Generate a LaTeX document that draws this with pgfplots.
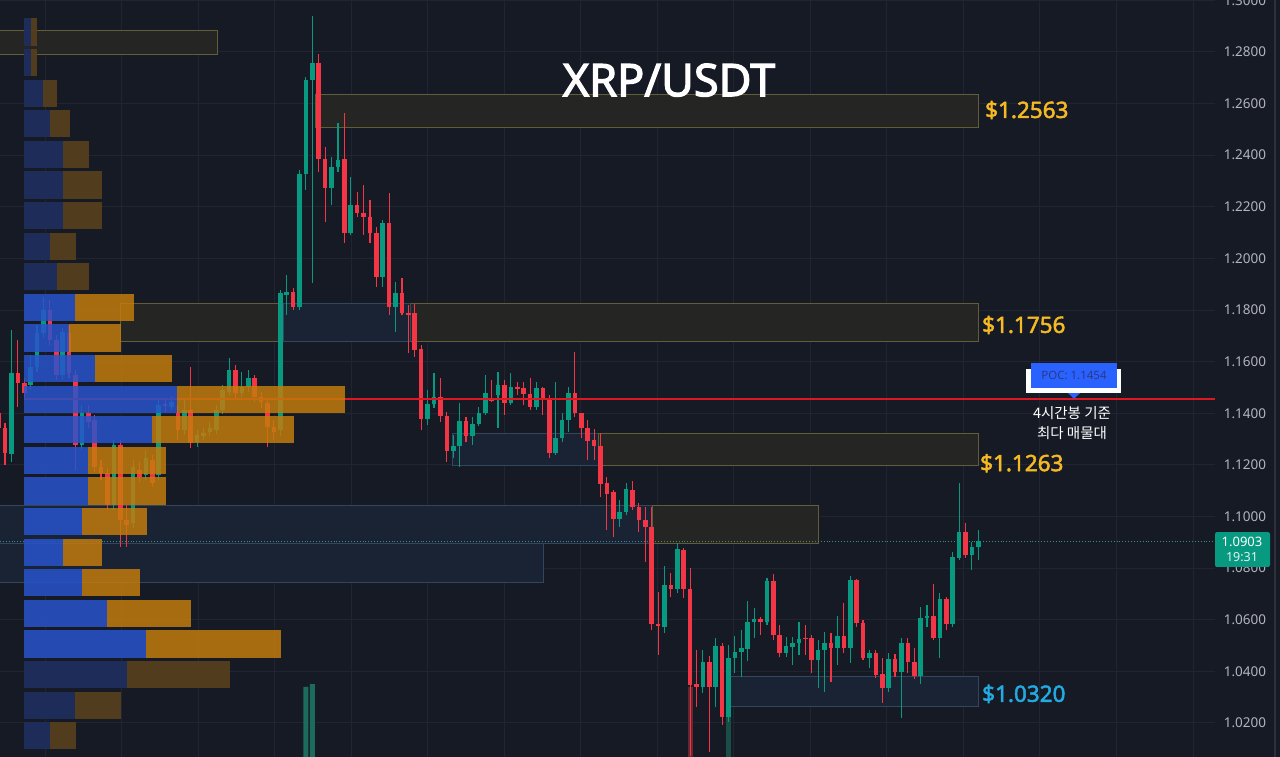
\documentclass[border=0pt]{standalone}
\usepackage{fontspec}
\setmainfont{Noto Sans}
\newfontfamily\bfnt{Noto Sans}[FakeBold=2.6]
\newfontfamily\bfntb{Noto Sans}[FakeBold=2.2]
\newfontfamily\kr{Noto Sans CJK KR}
\usepackage{pgfplots}
\usepackage{pgfplotstable}
\pgfplotsset{compat=1.18}

\definecolor{bg}{RGB}{22,26,37}
\definecolor{gridc}{RGB}{33,37,49}
\definecolor{upc}{RGB}{8,153,129}
\definecolor{dnc}{RGB}{242,54,69}
\definecolor{pocred}{RGB}{222,24,34}
\definecolor{olivef}{RGB}{37,38,36}
\definecolor{oliveb}{RGB}{96,93,56}
\definecolor{bluef}{RGB}{26,35,51}
\definecolor{blueb}{RGB}{50,70,94}
\definecolor{gold}{RGB}{245,185,35}
\definecolor{cyanl}{RGB}{35,170,225}
\definecolor{pricec}{RGB}{178,181,190}
\definecolor{pblue}{RGB}{40,84,205}
\definecolor{porange}{RGB}{196,124,12}
\definecolor{pbluedk}{RGB}{30,45,92}
\definecolor{porangedk}{RGB}{86,62,30}
\definecolor{pocblue}{RGB}{41,98,255}
\definecolor{poctext}{RGB}{45,58,130}
\definecolor{volup}{RGB}{28,108,93}
\definecolor{volupdk}{RGB}{24,78,70}
\definecolor{voldn}{RGB}{105,38,48}
\definecolor{borderc}{RGB}{44,48,60}

% 4h candles: index, open, high, low, close
\pgfplotstableread{
i o h l c
1 1.1241 1.1723 1.1210 1.1555
4 1.1509 1.1626 1.1490 1.1579
5 1.1579 1.1742 1.1559 1.1711
6 1.1711 1.1850 1.1692 1.1800
9 1.1548 1.1730 1.1528 1.1715
12 1.1277 1.1432 1.1257 1.1400
17 1.1045 1.1296 1.1025 1.1277
20 1.0974 1.1218 1.0955 1.1191
22 1.1161 1.1257 1.1141 1.1226
24 1.1161 1.1459 1.1141 1.1432
26 1.1424 1.1467 1.1412 1.1443
28 1.1335 1.1451 1.1316 1.1412
30 1.1288 1.1335 1.1269 1.1316
31 1.1312 1.1342 1.1296 1.1323
32 1.1327 1.1365 1.1312 1.1342
33 1.1335 1.1432 1.1319 1.1412
34 1.1412 1.1509 1.1396 1.1490
35 1.1482 1.1614 1.1471 1.1567
37 1.1478 1.1559 1.1463 1.1501
38 1.1501 1.1567 1.1482 1.1536
43 1.1335 1.1877 1.1312 1.1865
44 1.1858 1.1936 1.1781 1.1869
46 1.1812 1.2343 1.1800 1.2327
47 1.2327 1.2703 1.2265 1.2691
48 1.2691 1.2940 1.1904 1.2757
51 1.2273 1.2393 1.2207 1.2354
52 1.2354 1.2524 1.2335 1.2381
54 1.2098 1.2316 1.2091 1.2207
59 1.1928 1.2149 1.1889 1.2137
61 1.1812 1.1908 1.1715 1.1865
66 1.1377 1.1490 1.1354 1.1435
67 1.1435 1.1555 1.1420 1.1463
70 1.1253 1.1316 1.1226 1.1273
71 1.1273 1.1439 1.1191 1.1369
73 1.1312 1.1385 1.1277 1.1357
74 1.1357 1.1424 1.1350 1.1400
75 1.1400 1.1548 1.1393 1.1478
77 1.1471 1.1559 1.1342 1.1509
79 1.1439 1.1555 1.1432 1.1501
83 1.1424 1.1520 1.1412 1.1497
86 1.1245 1.1520 1.1238 1.1304
87 1.1304 1.1400 1.1288 1.1373
88 1.1373 1.1501 1.1327 1.1478
96 1.0990 1.1064 1.0959 1.1017
97 1.1017 1.1129 1.1006 1.1106
103 1.0571 1.0808 1.0548 1.0735
105 1.0719 1.0897 1.0703 1.0874
109 1.0339 1.0482 1.0315 1.0435
111 1.0339 1.0529 1.0261 1.0498
113 1.0223 1.0502 1.0203 1.0451
114 1.0451 1.0537 1.0393 1.0474
115 1.0474 1.0560 1.0378 1.0490
116 1.0486 1.0672 1.0439 1.0590
117 1.0590 1.0645 1.0529 1.0602
119 1.0590 1.0761 1.0579 1.0750
122 1.0470 1.0533 1.0455 1.0498
123 1.0494 1.0533 1.0424 1.0509
124 1.0509 1.0590 1.0463 1.0525
127 1.0443 1.0521 1.0335 1.0482
128 1.0482 1.0552 1.0319 1.0509
130 1.0490 1.0614 1.0424 1.0537
132 1.0490 1.0769 1.0431 1.0754
135 1.0451 1.0482 1.0412 1.0470
138 1.0335 1.0470 1.0319 1.0447
140 1.0397 1.0529 1.0219 1.0509
143 1.0382 1.0649 1.0350 1.0606
144 1.0606 1.0657 1.0571 1.0614
146 1.0529 1.0703 1.0451 1.0680
148 1.0582 1.0862 1.0571 1.0843
149 1.0839 1.1129 1.0831 1.0939
151 1.0851 1.0901 1.0792 1.0882
152 1.0882 1.0947 1.0831 1.0903
}\upc

\pgfplotstableread{
i o h l c
-1 1.1400 1.1471 1.1296 1.1342
0 1.1342 1.1361 1.1199 1.1245
2 1.1555 1.1683 1.1424 1.1516
3 1.1516 1.1536 1.1451 1.1478
7 1.1800 1.1839 1.1664 1.1683
8 1.1683 1.1704 1.1528 1.1548
10 1.1711 1.1742 1.1536 1.1555
11 1.1548 1.1567 1.1180 1.1277
13 1.1400 1.1432 1.1342 1.1365
14 1.1373 1.1393 1.1172 1.1191
15 1.1191 1.1218 1.1141 1.1168
16 1.1168 1.1187 1.1025 1.1045
18 1.1277 1.1296 1.0882 1.0986
19 1.0986 1.1045 1.0882 1.0967
21 1.1180 1.1210 1.1133 1.1153
23 1.1218 1.1238 1.1114 1.1129
25 1.1435 1.1459 1.1404 1.1428
27 1.1400 1.1432 1.1296 1.1335
29 1.1412 1.1579 1.1265 1.1284
36 1.1567 1.1587 1.1451 1.1478
39 1.1536 1.1548 1.1443 1.1463
40 1.1463 1.1482 1.1420 1.1443
41 1.1439 1.1459 1.1269 1.1346
42 1.1346 1.1373 1.1296 1.1327
45 1.1869 1.1885 1.1800 1.1812
49 1.2757 1.2792 1.2335 1.2385
50 1.2385 1.2432 1.2141 1.2273
53 1.2385 1.2563 1.2059 1.2098
55 1.2207 1.2257 1.2160 1.2175
56 1.2175 1.2285 1.2091 1.2160
57 1.2160 1.2226 1.2059 1.2098
58 1.2098 1.2122 1.1889 1.1928
60 1.2137 1.2253 1.1781 1.1812
62 1.1865 1.1924 1.1781 1.1788
63 1.1788 1.1820 1.1633 1.1781
64 1.1788 1.1823 1.1618 1.1645
65 1.1648 1.1664 1.1335 1.1377
68 1.1463 1.1536 1.1365 1.1389
69 1.1389 1.1404 1.1210 1.1253
72 1.1369 1.1385 1.1288 1.1312
76 1.1459 1.1528 1.1443 1.1447
78 1.1509 1.1528 1.1393 1.1439
80 1.1501 1.1520 1.1471 1.1493
81 1.1497 1.1520 1.1432 1.1474
82 1.1474 1.1536 1.1412 1.1424
84 1.1497 1.1501 1.1393 1.1455
85 1.1455 1.1471 1.1226 1.1245
89 1.1478 1.1637 1.1385 1.1400
90 1.1400 1.1400 1.1304 1.1342
91 1.1342 1.1373 1.1218 1.1292
92 1.1296 1.1338 1.1218 1.1273
93 1.1273 1.1323 1.1075 1.1125
94 1.1129 1.1153 1.0947 1.1086
95 1.1094 1.1102 1.0920 1.0990
98 1.1102 1.1137 1.1025 1.1037
99 1.1037 1.1052 1.0939 1.0986
100 1.0986 1.1037 1.0823 1.0959
101 1.0959 1.1037 1.0560 1.0582
102 1.0582 1.0707 1.0463 1.0575
104 1.0735 1.0780 1.0688 1.0719
106 1.0870 1.0878 1.0684 1.0719
107 1.0719 1.0800 1.0072 1.0347
108 1.0350 1.0482 1.0261 1.0339
110 1.0435 1.0459 1.0087 1.0339
112 1.0498 1.0509 1.0192 1.0223
118 1.0602 1.0610 1.0541 1.0590
120 1.0750 1.0776 1.0521 1.0541
121 1.0541 1.0579 1.0455 1.0470
125 1.0529 1.0579 1.0463 1.0525
126 1.0529 1.0541 1.0393 1.0443
129 1.0509 1.0548 1.0358 1.0490
131 1.0537 1.0664 1.0470 1.0490
133 1.0754 1.0757 1.0571 1.0586
134 1.0586 1.0598 1.0443 1.0451
136 1.0470 1.0482 1.0374 1.0386
137 1.0389 1.0451 1.0276 1.0335
139 1.0447 1.0466 1.0378 1.0397
141 1.0509 1.0529 1.0393 1.0435
142 1.0435 1.0490 1.0370 1.0382
145 1.0614 1.0738 1.0521 1.0529
147 1.0680 1.0688 1.0560 1.0582
150 1.0939 1.0974 1.0839 1.0851
}\dnc

% volume bars (top edge on the price scale)
\pgfplotstableread{
i v
47 1.0339
48 1.0350
}\volupt
\pgfplotstableread{
i v
113 1.0223
}\volupdkt
\pgfplotstableread{
i v
107 1.0339
}\voldnt

% volume profile rows: price, end of buy part, end of sell part (x)
\pgfplotstableread{
p b o
1.2878 31 37
1.2759 31 37
1.2640 43 57
1.2522 50 70
1.2403 63 89
1.2285 63 102
1.2166 63 102
1.2047 50 76
1.1929 57 89
1.0387 127 230
1.0268 75 121
1.0150 50 76
}\profdk
\pgfplotstableread{
p b o
1.1810 75 134
1.1691 69 121
1.1573 95 172
1.1454 177 345
1.1336 152 294
1.1217 88 166
1.1098 88 166
1.0980 82 147
1.0861 63 102
1.0743 82 140
1.0624 107 191
1.0505 146 281
}\profbr

\pgfplotsset{
  wick/.style={draw=none, mark=none, forget plot, error bars/.cd, y dir=both, y explicit, error mark=none, error bar style={draw=#1, line width=1.1pt}},
  body/.style={draw=none, mark=none, forget plot, error bars/.cd, y dir=both, y explicit, error mark=none, error bar style={draw=#1, line width=4.6pt}},
  pbar/.style 2 args={draw=none, mark=none, forget plot, error bars/.cd, x dir=both, x explicit, error mark=none, error bar style={draw=#1, line width=27.5pt, draw opacity=#2}},
}

\begin{document}
\begin{tikzpicture}
\begin{axis}[name=main, hide axis, width=1280pt, height=757pt, scale only axis,
  xmin=0, xmax=1280, ymin=1.006747, ymax=1.30016, clip=true]
% background
\fill[bg] (axis cs:0,1.006747) rectangle (axis cs:1280,1.30016);
% grid
\pgfplotsinvokeforeach{1.02,1.04,1.06,1.08,1.10,1.12,1.14,1.16,1.18,1.20,1.22,1.24,1.26,1.28,1.30}{
  \draw[gridc, line width=1pt] (axis cs:0,#1) -- (axis cs:1215,#1);
}
\pgfplotsinvokeforeach{45,121.5,198.1,274.6,351.1,427.7,504.2,580.7,657.2,733.8,810.3,886.8,963.4,1039.9,1116.4,1193}{
  \draw[gridc, line width=1pt] (axis cs:#1,1.006747) -- (axis cs:#1,1.30016);
}
% zones
\draw[fill=olivef, draw=oliveb, line width=0.8pt] (axis cs:-2,1.2885) rectangle (axis cs:217,1.2789);
\draw[fill=olivef, draw=oliveb, line width=0.8pt] (axis cs:315,1.2637) rectangle (axis cs:978,1.2509);
\draw[fill=olivef, draw=oliveb, line width=0.8pt] (axis cs:120,1.1827) rectangle (axis cs:978,1.1679);
\draw[fill=bluef, draw=blueb, line width=0.8pt] (axis cs:283,1.1827) rectangle (axis cs:410,1.1679);
\draw[fill=bluef, draw=blueb, line width=0.8pt] (axis cs:452,1.1323) rectangle (axis cs:598,1.1199);
\draw[fill=olivef, draw=oliveb, line width=0.8pt] (axis cs:598,1.1323) rectangle (axis cs:978,1.1199);
\draw[fill=bluef, draw=blueb, line width=0.8pt] (axis cs:-2,1.1041) rectangle (axis cs:652,1.0897);
\draw[fill=olivef, draw=oliveb, line width=0.8pt] (axis cs:652,1.1041) rectangle (axis cs:818,1.0897);
\draw[fill=bluef, draw=blueb, line width=0.8pt] (axis cs:-2,1.0897) rectangle (axis cs:543,1.0746);
\draw[fill=bluef, draw=blueb, line width=0.8pt] (axis cs:730,1.0378) rectangle (axis cs:978,1.0265);
% current price line
\addplot[forget plot, color=upc!60!gray, dotted, line width=0.9pt] coordinates {(0,1.0903) (1215,1.0903)};
% volume
\addplot[ybar, bar width=5, bar shift=0pt, fill=volup, draw=none, forget plot] table[x expr=5+6.403*\thisrow{i}, y=v]{\volupt};
\addplot[ybar, bar width=5, bar shift=0pt, fill=volupdk, draw=none, forget plot] table[x expr=5+6.403*\thisrow{i}, y=v]{\volupdkt};
\addplot[ybar, bar width=5, bar shift=0pt, fill=voldn, draw=none, forget plot] table[x expr=5+6.403*\thisrow{i}, y=v]{\voldnt};
% candles
\addplot[wick=upc] table[x expr=5+6.403*\thisrow{i}, y expr=(\thisrow{h}+\thisrow{l})/2, y error expr=(\thisrow{h}-\thisrow{l})/2]{\upc};
\addplot[wick=dnc] table[x expr=5+6.403*\thisrow{i}, y expr=(\thisrow{h}+\thisrow{l})/2, y error expr=(\thisrow{h}-\thisrow{l})/2]{\dnc};
\addplot[body=upc] table[x expr=5+6.403*\thisrow{i}, y expr=(\thisrow{o}+\thisrow{c})/2, y error expr={max(abs(\thisrow{c}-\thisrow{o})/2,0.0003)}]{\upc};
\addplot[body=dnc] table[x expr=5+6.403*\thisrow{i}, y expr=(\thisrow{o}+\thisrow{c})/2, y error expr={max(abs(\thisrow{c}-\thisrow{o})/2,0.0003)}]{\dnc};
% POC line
\addplot[forget plot, color=pocred, line width=1.8pt] coordinates {(24,1.1454) (1215,1.1454)};
% volume profile
\addplot[pbar={pbluedk}{0.95}] table[x expr=(24+\thisrow{b})/2, y=p, x error expr=(\thisrow{b}-24)/2]{\profdk};
\addplot[pbar={porangedk}{0.95}] table[x expr=(\thisrow{b}+\thisrow{o})/2, y=p, x error expr=(\thisrow{o}-\thisrow{b})/2]{\profdk};
\addplot[pbar={pblue}{0.84}] table[x expr=(24+\thisrow{b})/2, y=p, x error expr=(\thisrow{b}-24)/2]{\profbr};
\addplot[pbar={porange}{0.84}] table[x expr=(\thisrow{b}+\thisrow{o})/2, y=p, x error expr=(\thisrow{o}-\thisrow{b})/2]{\profbr};
% right border
\draw[borderc, line width=1.5pt] (axis cs:1275,1.006747) -- (axis cs:1275,1.30016);
% title
\node[text=white, font=\bfnt\fontsize{45}{50}\selectfont] at (axis cs:669,1.2691) {XRP/USDT};
% zone labels
\node[anchor=west, inner sep=0pt, text=gold, font=\bfntb\fontsize{22.5}{26}\selectfont] at (axis cs:985,1.2575) {\$1.2563};
\node[anchor=west, inner sep=0pt, text=gold, font=\bfntb\fontsize{22.5}{26}\selectfont] at (axis cs:982,1.1742) {\$1.1756};
\node[anchor=west, inner sep=0pt, text=gold, font=\bfntb\fontsize{22.5}{26}\selectfont] at (axis cs:980,1.1206) {\$1.1263};
\node[anchor=west, inner sep=0pt, text=cyanl, font=\bfntb\fontsize{22.5}{26}\selectfont] at (axis cs:982,1.0312) {\$1.0320};
% POC label
\fill[white] (axis cs:1026,1.1571) rectangle (axis cs:1121,1.1478);
\fill[pocblue] (axis cs:1031,1.1594) rectangle (axis cs:1117,1.1497);
\fill[pocblue] (axis cs:1068,1.1478) -- (axis cs:1080,1.1478) -- (axis cs:1074,1.1456) -- cycle;
\node[text=poctext, font=\fontsize{11.5}{13}\selectfont] at (axis cs:1074,1.1545) {POC: 1.1454};
\node[text=white, font=\kr\fontsize{14.5}{20}\selectfont] at (axis cs:1072,1.1400) {4시간봉 기준};
\node[text=white, font=\kr\fontsize{14.5}{20}\selectfont] at (axis cs:1072,1.1323) {최다 매물대};
% price scale labels
\pgfplotsinvokeforeach{1.3000,1.2800,1.2600,1.2400,1.2200,1.2000,1.1800,1.1600,1.1400,1.1200,1.1000,1.0800,1.0600,1.0400,1.0200}{
  \node[text=pricec, font=\fontsize{13.5}{16}\selectfont] at (axis cs:1245,#1) {#1};
}
% last price tag
\fill[upc, rounded corners=2pt] (axis cs:1215,1.0939) rectangle (axis cs:1270,1.0804);
\node[text=white, font=\fontsize{13}{15}\selectfont] at (axis cs:1242,1.0900) {1.0903};
\node[text=white!88!upc, font=\fontsize{12.5}{15}\selectfont] at (axis cs:1242,1.0843) {19:31};
\end{axis}
\pgfresetboundingbox
\path[use as bounding box] (main.south west) rectangle (main.north east);
\end{tikzpicture}
\end{document}
